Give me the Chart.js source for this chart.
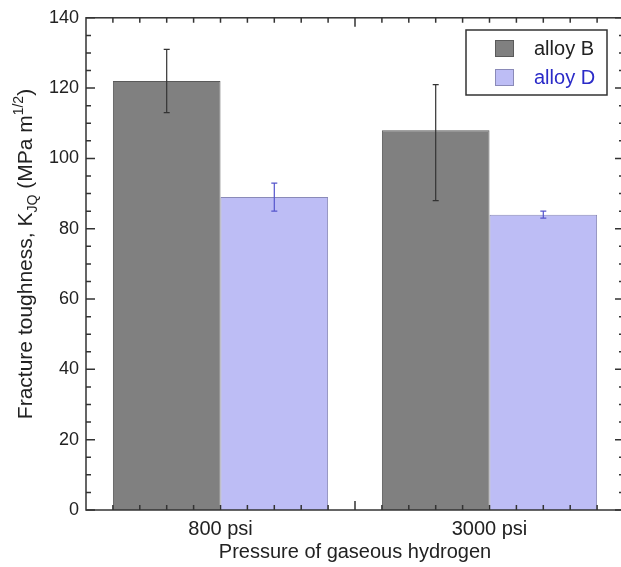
<!DOCTYPE html>
<html>
<head>
<meta charset="utf-8">
<script src="https://cdn.jsdelivr.net/npm/chart.js@4.4.1/dist/chart.umd.min.js"></script>
<style>
  html, body { margin: 0; padding: 0; background: #fff; overflow: hidden; }
  #wrap { width: 640px; height: 567px; }
</style>
</head>
<body>
<div id="wrap"><canvas id="chart" width="640" height="567"></canvas></div>
<script>
// --- données ---
const categories = ['800 psi', '3000 psi'];
const seriesNames = ['alloy B', 'alloy D'];
const alloyB = [122, 108];
const alloyBLow = [113, 88];
const alloyBHigh = [131, 121];
const alloyD = [89, 84];
const alloyDLow = [85, 83];
const alloyDHigh = [93, 85];
const yMin = 0, yMax = 140, yStep = 20;

const FONT = 'Liberation Sans, Arial, Helvetica, sans-serif';
const INK = '#333';

const seriesColors = ['#808080', '#bdbdf5'];
const seriesBorders = ['#5a5a5a', '#8a8ab8'];
const errColors = ['#333333', '#5555cc'];
const legendTextColors = ['#222222', '#2b2bc8'];

// Cadre + graduations internes (comme l'original)
const framePlugin = {
  id: 'frame',
  afterDatasetsDraw(chart) {
    const { ctx, chartArea: a, scales: { x, y } } = chart;
    ctx.save();
    ctx.strokeStyle = INK;
    ctx.lineWidth = 1.5;
    ctx.strokeRect(a.left, a.top, a.right - a.left, a.bottom - a.top);

    // y : mineures tous les 5, majeures tous les 20
    for (let v = yMin; v <= yMax; v += 5) {
      const py = y.getPixelForValue(v);
      const len = v % yStep === 0 ? 9 : 5;
      ctx.beginPath();
      ctx.moveTo(a.left, py); ctx.lineTo(a.left + len, py);
      ctx.moveTo(a.right, py); ctx.lineTo(a.right - len, py);
      ctx.stroke();
    }
    // x : mineures tous les 0.1, majeure entre les groupes
    for (let k = 6; k < 25; k++) {
      const v = k / 10;
      const px = x.getPixelForValue(v);
      const len = k === 15 ? 9 : 5;
      ctx.beginPath();
      ctx.moveTo(px, a.bottom); ctx.lineTo(px, a.bottom - len);
      ctx.moveTo(px, a.top); ctx.lineTo(px, a.top + len);
      ctx.stroke();
    }
    ctx.restore();
  }
};

// Barres d'erreur
const errorPlugin = {
  id: 'errbars',
  afterDatasetsDraw(chart) {
    const { ctx, scales: { y } } = chart;
    const lows = [alloyBLow, alloyDLow];
    const highs = [alloyBHigh, alloyDHigh];
    ctx.save();
    ctx.lineWidth = 1.2;
    chart.data.datasets.forEach((ds, di) => {
      const meta = chart.getDatasetMeta(di);
      ctx.strokeStyle = errColors[di];
      meta.data.forEach((bar, i) => {
        const top = y.getPixelForValue(highs[di][i]);
        const bot = y.getPixelForValue(lows[di][i]);
        ctx.beginPath();
        ctx.moveTo(bar.x, top); ctx.lineTo(bar.x, bot);
        ctx.moveTo(bar.x - 3, top); ctx.lineTo(bar.x + 3, top);
        ctx.moveTo(bar.x - 3, bot); ctx.lineTo(bar.x + 3, bot);
        ctx.stroke();
      });
    });
    ctx.restore();
  }
};

// Légende encadrée + titre de l'axe y avec indices/exposants
const textPlugin = {
  id: 'texts',
  afterDraw(chart) {
    const { ctx } = chart;
    ctx.save();
    // légende
    ctx.strokeStyle = INK;
    ctx.lineWidth = 1.5;
    ctx.fillStyle = '#fff';
    ctx.fillRect(466, 30, 141, 65);
    ctx.strokeRect(466, 30, 141, 65);
    seriesNames.forEach((name, i) => {
      const yy = 40 + i * 29;
      ctx.fillStyle = seriesColors[i];
      ctx.fillRect(495, yy, 19, 17);
      ctx.strokeStyle = seriesBorders[i];
      ctx.lineWidth = 1;
      ctx.strokeRect(495.5, yy + 0.5, 18, 16);
      ctx.fillStyle = legendTextColors[i];
      ctx.font = '20px ' + FONT;
      ctx.textBaseline = 'alphabetic';
      ctx.textAlign = 'left';
      ctx.fillText(name, 534, yy + 15);
    });

    // titre y
    const parts = [
      { t: 'Fracture toughness, K', s: 21, dy: 0 },
      { t: 'JQ', s: 14, dy: 5 },
      { t: ' (MPa m', s: 21, dy: 0 },
      { t: '1/2', s: 14, dy: -9 },
      { t: ')', s: 21, dy: 0 }
    ];
    let total = 0;
    parts.forEach(p => { ctx.font = p.s + 'px ' + FONT; p.w = ctx.measureText(p.t).width; total += p.w; });
    ctx.translate(32, 254);
    ctx.rotate(-Math.PI / 2);
    ctx.fillStyle = '#222';
    ctx.textAlign = 'left';
    ctx.textBaseline = 'alphabetic';
    let cx = -total / 2;
    parts.forEach(p => {
      ctx.font = p.s + 'px ' + FONT;
      ctx.fillText(p.t, cx, p.dy);
      cx += p.w;
    });
    ctx.restore();
  }
};

new Chart(document.getElementById('chart'), {
  type: 'bar',
  data: {
    datasets: [
      {
        label: seriesNames[0],
        data: alloyB.map((v, i) => ({ x: i + 1, y: v })),
        backgroundColor: seriesColors[0],
        borderColor: seriesBorders[0],
        borderWidth: 1
      },
      {
        label: seriesNames[1],
        data: alloyD.map((v, i) => ({ x: i + 1, y: v })),
        backgroundColor: seriesColors[1],
        borderColor: seriesBorders[1],
        borderWidth: 1
      }
    ]
  },
  options: {
    responsive: false,
    animation: false,
    categoryPercentage: 0.8,
    barPercentage: 1.0,
    layout: { padding: { top: 16, right: 16, left: 0, bottom: 0 } },
    plugins: { legend: { display: false }, tooltip: { enabled: false } },
    scales: {
      x: {
        type: 'linear',
        min: 0.5,
        max: 2.5,
        offset: false,
        grid: { display: false, drawTicks: false },
        border: { display: false },
        afterBuildTicks: (scale) => { scale.ticks = categories.map((c, i) => ({ value: i + 1 })); },
        afterFit: (scale) => { scale.height = 57; },
        ticks: {
          padding: 7,
          color: '#222',
          font: { family: FONT, size: 20 },
          callback: (v) => categories[v - 1]
        },
        title: {
          display: true,
          text: 'Pressure of gaseous hydrogen',
          color: '#222',
          font: { family: FONT, size: 20 },
          padding: { top: 0, bottom: 3 }
        }
      },
      y: {
        min: yMin,
        max: yMax,
        grid: { display: false, drawTicks: false },
        border: { display: false },
        afterFit: (scale) => { scale.width = 86; },
        ticks: {
          stepSize: yStep,
          padding: 7,
          color: '#222',
          font: { family: FONT, size: 18 }
        }
      }
    }
  },
  plugins: [framePlugin, errorPlugin, textPlugin]
});
</script>
</body>
</html>
